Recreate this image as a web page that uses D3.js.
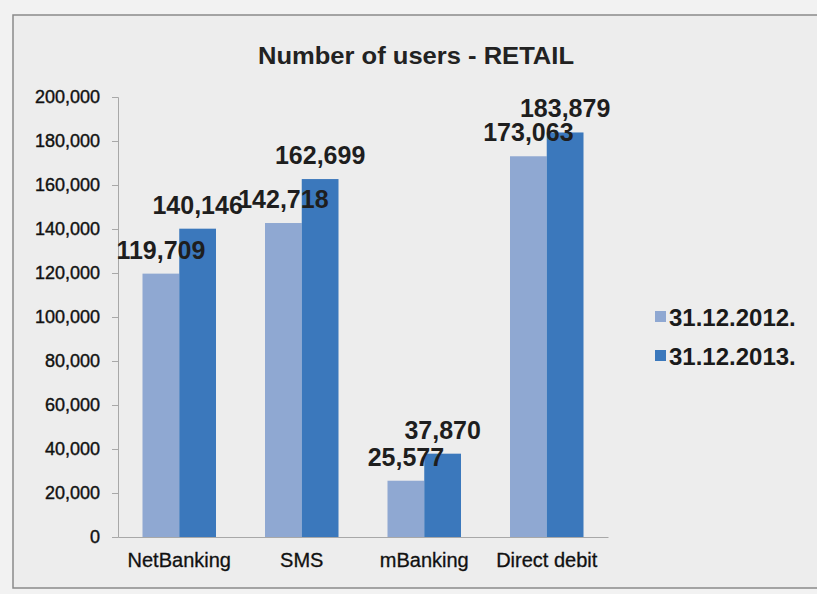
<!DOCTYPE html>
<html><head><meta charset="utf-8">
<script src="https://cdn.jsdelivr.net/npm/d3@7"></script>
<style>
html,body{margin:0;padding:0;background:#f2f2f2;}
svg{display:block;font-family:"Liberation Sans",Arial,sans-serif;}
</style></head>
<body>
<svg id="c" width="817" height="594"></svg>
<script>
const categories = ["NetBanking", "SMS", "mBanking", "Direct debit"];
const seriesNames = ["31.12.2012.", "31.12.2013."];
const values2012 = [119709, 142718, 25577, 173063];
const values2013 = [140146, 162699, 37870, 183879];
const yTicks = [0, 20000, 40000, 60000, 80000, 100000, 120000, 140000, 160000, 180000, 200000];
const colors = ["#8fa8d2", "#3b78bc"];
const title = "Number of users - RETAIL";

(function(){
const svg = d3.select("#c");
svg.append("rect").attr("x", 13).attr("y", 15).attr("width", 820).attr("height", 573)
  .attr("fill", "#ededed").attr("stroke", "#8a8a8a").attr("stroke-width", 1.5);

const pLeft = 118, pRight = 608, pTop = 97, pBottom = 537;
const x0 = d3.scaleBand().domain(categories).range([pLeft, pRight]).paddingInner(0.4).paddingOuter(0.2);
const x1 = d3.scaleBand().domain([0, 1]).range([0, x0.bandwidth()]);
const y = d3.scaleLinear().domain([0, 200000]).range([pBottom, pTop]);

svg.append("text").attr("x", 416).attr("y", 64).attr("text-anchor", "middle")
  .attr("font-size", 24).attr("font-weight", "bold").attr("fill", "#222")
  .attr("textLength", 316).attr("lengthAdjust", "spacingAndGlyphs").text(title);

const yAxis = d3.axisLeft(y).tickValues(yTicks).tickFormat(d3.format(",")).tickSize(6).tickPadding(12);
const ga = svg.append("g").attr("transform", `translate(${pLeft},0)`).call(yAxis);
ga.select(".domain").attr("stroke", "#a8a8a8");
ga.selectAll(".tick line").attr("stroke", "#a8a8a8");
ga.selectAll(".tick text").attr("font-size", 18).attr("fill", "#111")
  .attr("font-family", "'Liberation Sans',Arial,sans-serif").attr("stroke", "#111").attr("stroke-width", 0.4);

const xAxis = d3.axisBottom(x0).tickSize(0).tickPadding(16);
const gx = svg.append("g").attr("transform", `translate(0,${pBottom})`).call(xAxis);
gx.select(".domain").attr("stroke", "#a8a8a8");
gx.selectAll(".tick text").attr("font-size", 20).attr("fill", "#111")
  .attr("font-family", "'Liberation Sans',Arial,sans-serif").attr("stroke", "#111").attr("stroke-width", 0.3);

const rows = categories.map((c, i) => ({c, v: [values2012[i], values2013[i]]}));
const g = svg.append("g");
rows.forEach(r => {
  r.v.forEach((v, s) => {
    g.append("rect")
      .attr("x", x0(r.c) + x1(s)).attr("y", y(v))
      .attr("width", x1.bandwidth()).attr("height", y(0) - y(v))
      .attr("fill", colors[s]);
  });
});
rows.forEach(r => {
  r.v.forEach((v, s) => {
    g.append("text")
      .attr("x", x0(r.c) + x1(s) + x1.bandwidth() / 2).attr("y", y(v) - 15)
      .attr("text-anchor", "middle").attr("font-size", 25).attr("font-weight", "bold")
      .attr("fill", "#1e1e1e").text(d3.format(",")(v));
  });
});

const lg = svg.append("g");
seriesNames.forEach((n, i) => {
  const ly = 317 + i * 39;
  lg.append("rect").attr("x", 655).attr("y", ly - 6).attr("width", 11).attr("height", 11).attr("fill", colors[i]);
  lg.append("text").attr("x", 669).attr("y", ly + 9).attr("font-size", 24).attr("font-weight", "bold")
    .attr("fill", "#1a1a1a").text(n);
});
})();
</script>
</body></html>
